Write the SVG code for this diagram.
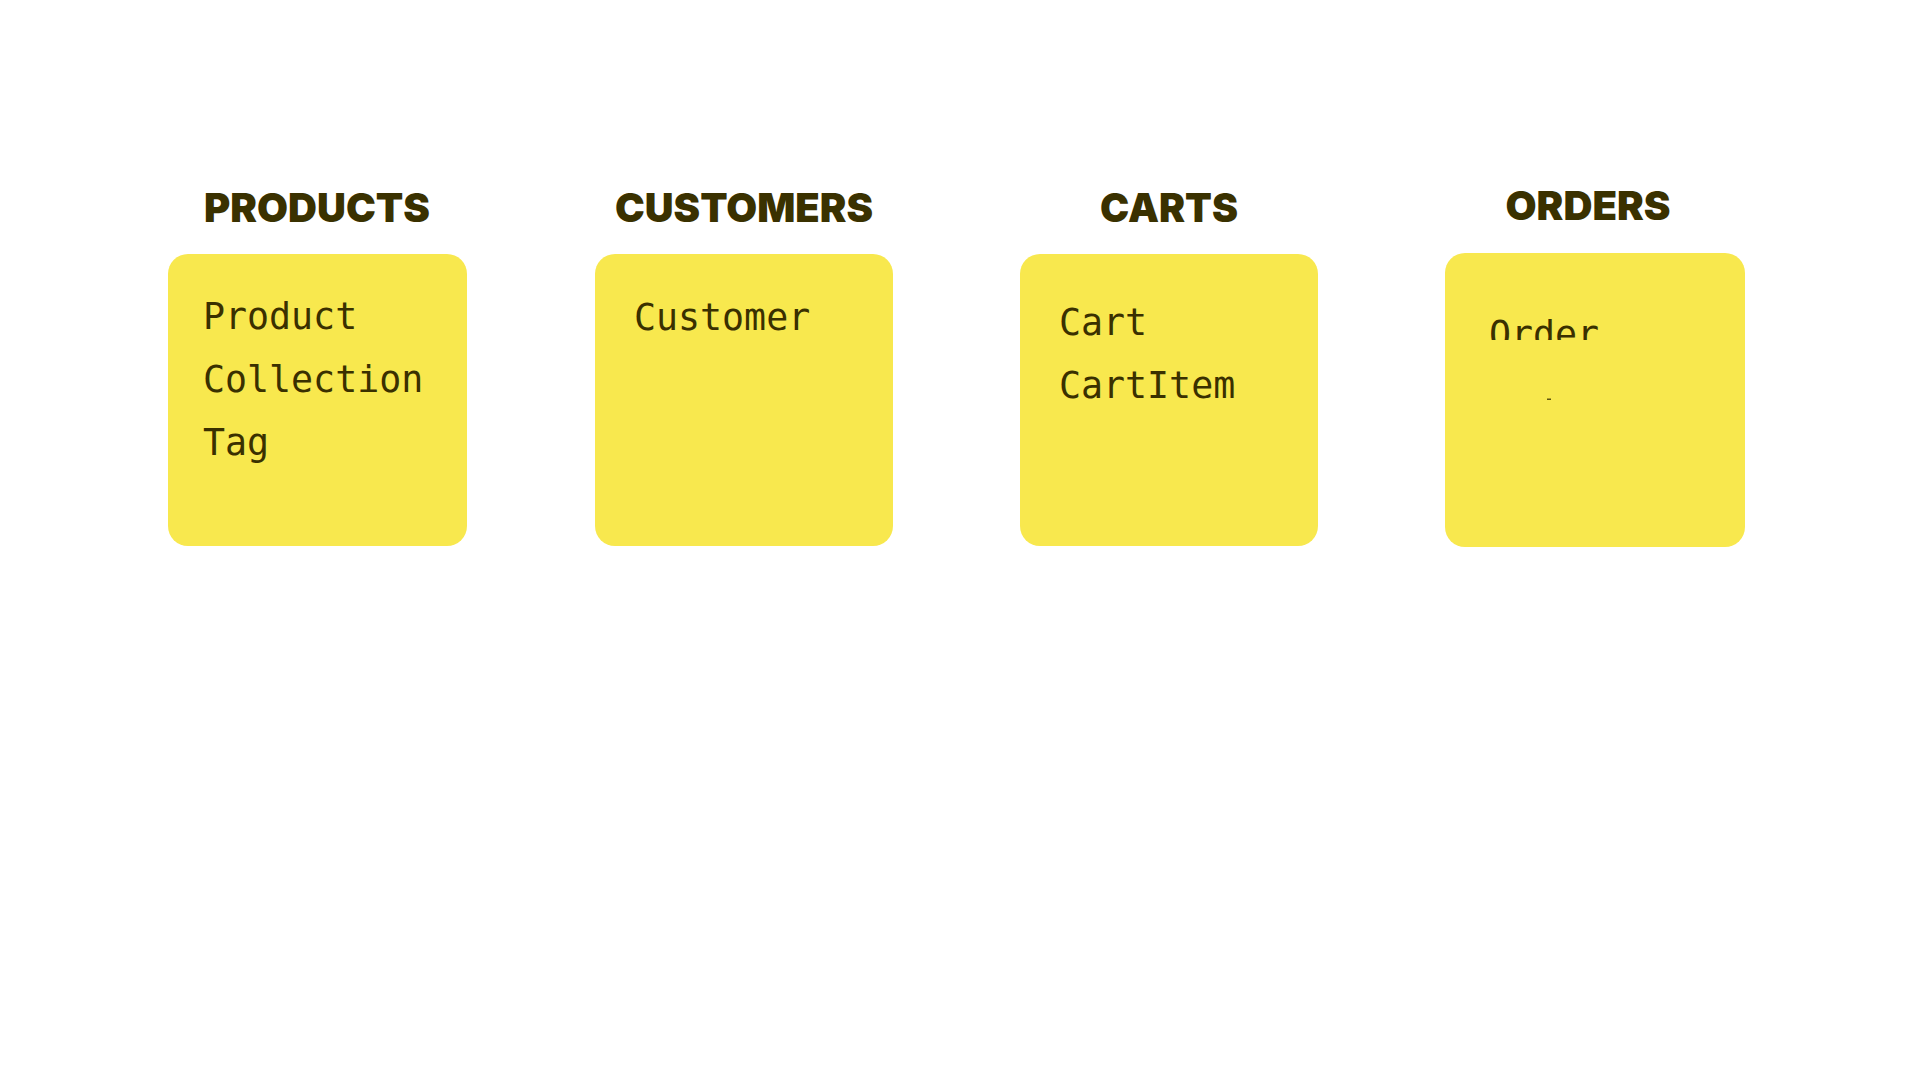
<svg xmlns="http://www.w3.org/2000/svg" width="1920" height="1080" viewBox="0 0 1920 1080">
  <style>
    .card { fill: #F8E84E; }
    .title { font-family: Inter, "Liberation Sans", sans-serif; font-weight: 900; font-size: 40px; fill: #3A3100; text-anchor: middle; }
    .item { font-family: "DejaVu Sans Mono", "Liberation Mono", monospace; font-size: 36.6px; fill: #3A3000; }
  </style>
  <defs>
    <clipPath id="orderClip">
      <rect x="1445" y="253" width="300" height="87"/>
    </clipPath>
  </defs>
  <rect width="1920" height="1080" fill="#FFFFFF"/>
  <g id="connectors"/>
  <g id="products">
    <text class="title" x="317" y="222" textLength="226" lengthAdjust="spacingAndGlyphs">PRODUCTS</text>
    <rect class="card" x="168" y="254" width="299" height="292" rx="20"/>
    <text class="item" x="203" y="329">Product</text>
    <text class="item" x="203" y="392">Collection</text>
    <text class="item" x="203" y="455">Tag</text>
  </g>
  <g id="customers">
    <text class="title" x="744" y="222" textLength="258" lengthAdjust="spacingAndGlyphs">CUSTOMERS</text>
    <rect class="card" x="595" y="254" width="298" height="292" rx="20"/>
    <text class="item" x="634" y="330">Customer</text>
  </g>
  <g id="carts">
    <text class="title" x="1169" y="222" textLength="138" lengthAdjust="spacingAndGlyphs">CARTS</text>
    <rect class="card" x="1020" y="254" width="298" height="292" rx="20"/>
    <text class="item" x="1059" y="335">Cart</text>
    <text class="item" x="1059" y="398">CartItem</text>
  </g>
  <g id="orders">
    <text class="title" x="1588" y="220" textLength="165" lengthAdjust="spacingAndGlyphs">ORDERS</text>
    <rect class="card" x="1445" y="253" width="300" height="294" rx="20"/>
    <text class="item" x="1489" y="347" clip-path="url(#orderClip)">Order</text>
    <rect x="1547" y="398.5" width="4" height="1.5" fill="#3A3000" opacity="0.8"/>
  </g>
</svg>
